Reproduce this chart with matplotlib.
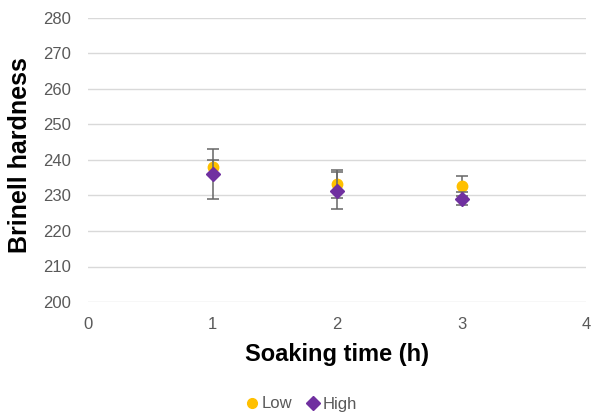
import matplotlib
matplotlib.use("Agg")
import matplotlib.pyplot as plt
from matplotlib.lines import Line2D

plt.rcParams['font.family'] = ['Liberation Sans', 'DejaVu Sans']

soaking_time = [1, 2, 3]
low_values = [238.0, 233.3, 232.7]
low_err = [2.0, 4.0, 2.8]
high_values = [236.0, 231.4, 229.1]
high_err = [7.0, 5.2, 1.9]

x_ticks = [0, 1, 2, 3, 4]
y_ticks = [200, 210, 220, 230, 240, 250, 260, 270, 280]

low_color = '#FFC000'
high_color = '#7030A0'
err_color = '#666666'
text_color = '#595959'

fig = plt.figure(figsize=(5.95, 4.16), dpi=100)
ax = fig.add_axes([88/595, 1 - 302/416, (586-88)/595, (302-18)/416])

ax.errorbar(soaking_time, low_values, yerr=low_err, fmt='o', color=low_color,
            markersize=7.5, ecolor=err_color, elinewidth=1.1, capsize=4, capthick=1.1, zorder=3)
ax.errorbar(soaking_time, high_values, yerr=high_err, fmt='D', color=high_color,
            markersize=7.5, ecolor=err_color, elinewidth=1.1, capsize=4, capthick=1.1, zorder=4)

ax.set_xlim(0, 4)
ax.set_ylim(200, 280)
ax.set_xticks(x_ticks)
ax.set_yticks(y_ticks)
ax.grid(axis='y', color='#d9d9d9', linewidth=1)
ax.set_axisbelow(True)
for s in ax.spines.values():
    s.set_visible(False)
ax.tick_params(length=0, labelsize=12, labelcolor=text_color)
ax.tick_params(axis='y', pad=12)
ax.tick_params(axis='x', pad=11)

ax.set_xlabel('Soaking time (h)', fontsize=17, fontweight='bold', labelpad=8)
ax.set_ylabel('Brinell hardness', fontsize=18, fontweight='bold')
ax.yaxis.set_label_coords(-(88 - 32) / (586 - 88), (302 - 155) / 284)

handles = [Line2D([], [], marker='o', linestyle='none', color=low_color, markersize=7),
           Line2D([], [], marker='D', linestyle='none', color=high_color, markersize=7)]
fig.legend(handles, ['Low', 'High'], loc='center', bbox_to_anchor=(300/595, 1 - 404/416),
           ncol=2, frameon=False, handletextpad=0.0, columnspacing=0.7,
           labelcolor=text_color, fontsize=12, handlelength=1.1)

fig.savefig('out.png', dpi=100)
